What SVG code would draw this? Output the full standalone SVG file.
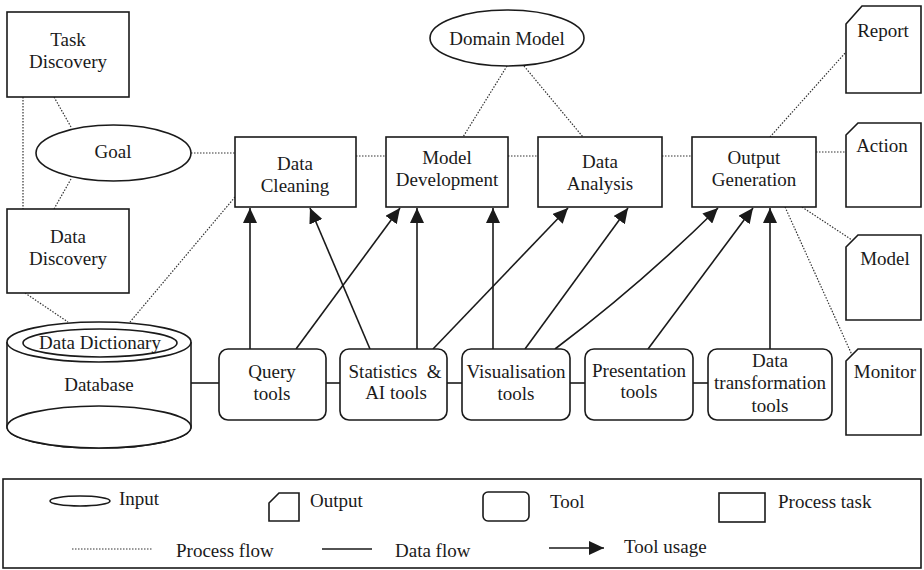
<svg xmlns="http://www.w3.org/2000/svg" width="924" height="570" viewBox="0 0 924 570">
<defs>
<marker id="ah" markerUnits="userSpaceOnUse" markerWidth="16" markerHeight="14" refX="15" refY="7" orient="auto">
<path d="M0,0 L15,7 L0,14 Z" fill="#1a1a1a"/>
</marker>
<style>
text{font-family:"Liberation Serif","Times New Roman",serif;font-size:19px;fill:#1a1a1a;text-anchor:middle}
.lt{text-anchor:start}
.box{fill:#fff;stroke:#1a1a1a;stroke-width:1.6}
.pf{fill:none;stroke:#333;stroke-width:1.2;stroke-dasharray:1.5 1.5}
.df{fill:none;stroke:#1a1a1a;stroke-width:1.6}
.tu{fill:none;stroke:#1a1a1a;stroke-width:1.6;marker-end:url(#ah)}
</style>
</defs>
<rect width="924" height="570" fill="#fff"/>

<g id="connectors">
<line class="pf" x1="23" y1="97" x2="23" y2="209"/>
<line class="pf" x1="54" y1="97" x2="71" y2="127"/>
<line class="pf" x1="71" y1="179" x2="54" y2="209"/>
<line class="pf" x1="191" y1="153" x2="235" y2="153"/>
<line class="pf" x1="25" y1="293" x2="68" y2="322"/>
<line class="pf" x1="235" y1="197" x2="130" y2="322"/>
<line class="pf" x1="356" y1="156" x2="386" y2="156"/>
<line class="pf" x1="508" y1="156" x2="538" y2="156"/>
<line class="pf" x1="662" y1="156" x2="692" y2="156"/>
<line class="pf" x1="507" y1="66" x2="463" y2="137"/>
<line class="pf" x1="524" y1="66" x2="583" y2="137"/>
<line class="pf" x1="770" y1="137" x2="846" y2="52"/>
<line class="pf" x1="816" y1="152" x2="846" y2="152"/>
<line class="pf" x1="802" y1="207" x2="852" y2="240"/>
<line class="pf" x1="785" y1="207" x2="852" y2="355"/>
<line class="df" x1="191" y1="383" x2="219" y2="383"/>
<line class="df" x1="326" y1="383" x2="340" y2="383"/>
<line class="df" x1="447" y1="383" x2="462" y2="383"/>
<line class="df" x1="570" y1="383" x2="585" y2="383"/>
<line class="df" x1="693" y1="383" x2="708" y2="383"/>
<line class="tu" x1="250" y1="349" x2="250" y2="208"/>
<line class="tu" x1="370" y1="349" x2="310" y2="208"/>
<line class="tu" x1="296" y1="349" x2="400" y2="208"/>
<line class="tu" x1="417" y1="349" x2="417" y2="208"/>
<line class="tu" x1="493" y1="349" x2="493" y2="208"/>
<line class="tu" x1="433" y1="349" x2="568" y2="208"/>
<line class="tu" x1="525" y1="349" x2="628" y2="208"/>
<path class="tu" d="M555,349 Q640,285 718,208"/>
<line class="tu" x1="648" y1="349" x2="753" y2="208"/>
<line class="tu" x1="770" y1="349" x2="770" y2="208"/>
</g>

<g id="task-discovery">
<rect class="box" x="7" y="12" width="122" height="85"/>
<text x="68" y="46">Task</text>
<text x="68" y="68">Discovery</text>
</g>
<g id="goal">
<ellipse class="box" cx="113.5" cy="153" rx="77.5" ry="28"/>
<text x="113" y="158">Goal</text>
</g>
<g id="data-discovery">
<rect class="box" x="7" y="209" width="122" height="84"/>
<text x="68" y="243">Data</text>
<text x="68" y="265">Discovery</text>
</g>
<g id="database">
<path class="box" d="M7,342 L7,427 A92,21 0 0 0 191,427 L191,342"/>
<ellipse class="box" cx="99" cy="427" rx="92" ry="21"/>
<ellipse class="box" cx="99" cy="342" rx="92" ry="20"/>
<ellipse class="box" cx="100" cy="343" rx="77" ry="14"/>
<text x="100" y="349">Data Dictionary</text>
<text x="99" y="391">Database</text>
</g>
<g id="domain-model">
<ellipse class="box" cx="507" cy="38" rx="77" ry="28"/>
<text x="507" y="45">Domain Model</text>
</g>
<g id="data-cleaning">
<rect class="box" x="235" y="137" width="121" height="70"/>
<text x="295" y="170">Data</text>
<text x="295" y="192">Cleaning</text>
</g>
<g id="model-development">
<rect class="box" x="386" y="137" width="122" height="70"/>
<text x="447" y="164">Model</text>
<text x="447" y="186">Development</text>
</g>
<g id="data-analysis">
<rect class="box" x="538" y="137" width="124" height="70"/>
<text x="600" y="168">Data</text>
<text x="600" y="190">Analysis</text>
</g>
<g id="output-generation">
<rect class="box" x="692" y="137" width="124" height="70"/>
<text x="754" y="164">Output</text>
<text x="754" y="186">Generation</text>
</g>
<g id="report">
<path class="box" d="M846,24 L862,6 L921,6 L921,93 L846,93 Z"/>
<text x="883" y="37">Report</text>
</g>
<g id="action">
<path class="box" d="M846,135 L858,123 L921,123 L921,207 L846,207 Z"/>
<text x="882" y="152">Action</text>
</g>
<g id="model">
<path class="box" d="M846,247 L858,235 L921,235 L921,320 L846,320 Z"/>
<text x="885" y="265">Model</text>
</g>
<g id="monitor">
<path class="box" d="M846,361 L858,349 L921,349 L921,435 L846,435 Z"/>
<text x="885" y="378">Monitor</text>
</g>
<g id="query-tools">
<rect class="box" x="219" y="349" width="107" height="71" rx="9"/>
<text x="272" y="378">Query</text>
<text x="272" y="400">tools</text>
</g>
<g id="statistics-ai-tools">
<rect class="box" x="340" y="349" width="107" height="71" rx="9"/>
<text x="395" y="378" xml:space="preserve">Statistics  &amp;</text>
<text x="396" y="399">AI tools</text>
</g>
<g id="visualisation-tools">
<rect class="box" x="462" y="349" width="108" height="71" rx="9"/>
<text x="516" y="378">Visualisation</text>
<text x="516" y="400">tools</text>
</g>
<g id="presentation-tools">
<rect class="box" x="585" y="349" width="108" height="71" rx="9"/>
<text x="639" y="377">Presentation</text>
<text x="639" y="398">tools</text>
</g>
<g id="data-transformation-tools">
<rect class="box" x="708" y="349" width="124" height="71" rx="9"/>
<text x="770" y="367">Data</text>
<text x="770" y="389">transformation</text>
<text x="770" y="412">tools</text>
</g>

<g id="legend">
<rect class="box" x="3" y="479" width="918" height="89"/>
<ellipse class="box" cx="80" cy="501" rx="30" ry="5"/>
<text class="lt" x="119" y="505">Input</text>
<path class="box" d="M269,503 L279,493 L299,493 L299,521 L269,521 Z"/>
<text class="lt" x="310" y="507">Output</text>
<rect class="box" x="483" y="492" width="46" height="29" rx="5"/>
<text class="lt" x="550" y="508">Tool</text>
<rect class="box" x="719" y="493" width="46" height="29"/>
<text class="lt" x="778" y="508">Process task</text>
<line class="pf" x1="72" y1="549" x2="153" y2="549"/>
<text class="lt" x="176" y="557">Process flow</text>
<line class="df" x1="322" y1="549" x2="372" y2="549"/>
<text class="lt" x="395" y="557">Data flow</text>
<line class="tu" x1="549" y1="548" x2="604" y2="548"/>
<text class="lt" x="624" y="553">Tool usage</text>
</g>
</svg>
